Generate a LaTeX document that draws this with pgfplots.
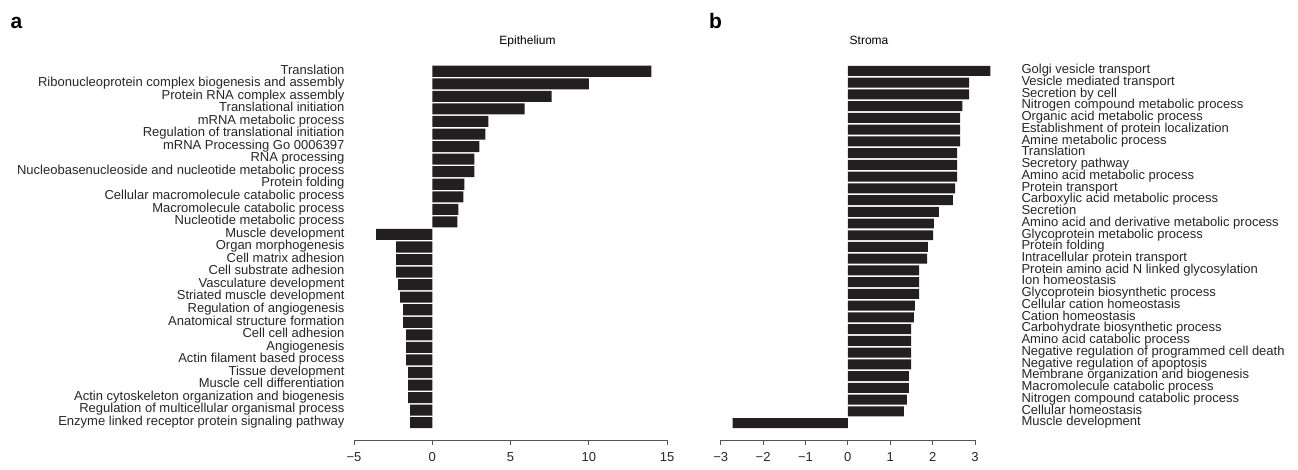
\documentclass[border=0pt]{standalone}
\usepackage{fontspec}
\setmainfont{Liberation Sans}
\usepackage{pgfplots}
\usepackage{pgfplotstable}
\pgfplotsset{compat=1.18}

\definecolor{barcol}{HTML}{231F20}
\definecolor{axcol}{HTML}{555555}

% epithelium: pos counted from the bottom bar
\pgfplotstableread[col sep=comma]{
pos,val,label
28,14.0,Translation
27,10.0,Ribonucleoprotein complex biogenesis and assembly
26,7.63,Protein RNA complex assembly
25,5.9,Translational initiation
24,3.59,mRNA metabolic process
23,3.40,Regulation of translational initiation
22,3.01,mRNA Processing Go 0006397
21,2.69,RNA processing
20,2.69,Nucleobasenucleoside and nucleotide metabolic process
19,2.05,Protein folding
18,1.99,Cellular macromolecule catabolic process
17,1.67,Macromolecule catabolic process
16,1.60,Nucleotide metabolic process
15,-3.59,Muscle development
14,-2.31,Organ morphogenesis
13,-2.31,Cell matrix adhesion
12,-2.31,Cell substrate adhesion
11,-2.18,Vasculature development
10,-2.05,Striated muscle development
9,-1.86,Regulation of angiogenesis
8,-1.86,Anatomical structure formation
7,-1.67,Cell cell adhesion
6,-1.67,Angiogenesis
5,-1.67,Actin filament based process
4,-1.54,Tissue development
3,-1.54,Muscle cell differentiation
2,-1.54,Actin cytoskeleton organization and biogenesis
1,-1.41,Regulation of multicellular organismal process
0,-1.41,Enzyme linked receptor protein signaling pathway
}\epi

% stroma
\pgfplotstableread[col sep=comma]{
pos,val,label
30,3.36,Golgi vesicle transport
29,2.86,Vesicle mediated transport
28,2.86,Secretion by cell
27,2.70,Nitrogen compound metabolic process
26,2.65,Organic acid metabolic process
25,2.65,Establishment of protein localization
24,2.65,Amine metabolic process
23,2.58,Translation
22,2.58,Secretory pathway
21,2.58,Amino acid metabolic process
20,2.53,Protein transport
19,2.48,Carboxylic acid metabolic process
18,2.15,Secretion
17,2.03,Amino acid and derivative metabolic process
16,2.01,Glycoprotein metabolic process
15,1.89,Protein folding
14,1.87,Intracellular protein transport
13,1.68,Protein amino acid N linked glycosylation
12,1.68,Ion homeostasis
11,1.68,Glycoprotein biosynthetic process
10,1.58,Cellular cation homeostasis
9,1.56,Cation homeostasis
8,1.49,Carbohydrate biosynthetic process
7,1.49,Amino acid catabolic process
6,1.49,Negative regulation of programmed cell death
5,1.49,Negative regulation of apoptosis
4,1.44,Membrane organization and biogenesis
3,1.44,Macromolecule catabolic process
2,1.39,Nitrogen compound catabolic process
1,1.32,Cellular homeostasis
0,-2.72,Muscle development
}\str

\pgfplotsset{
  rstyle/.style={
    xbar, scale only axis, clip=false,
    axis x line*=bottom,
    y axis line style={draw=none},
    ytick style={draw=none},
    x axis line style={draw=axcol, line width=0.9bp, -},
    xtick style={draw=axcol, line width=0.9bp},
    tick align=outside, major tick length=5bp,
    ytick=data,
    typeset ticklabels with strut,
    tick label style={font=\fontsize{13bp}{13bp}\selectfont, text=black!85},
    xticklabel style={yshift=-4bp},
  }
}

\begin{document}
\begin{tikzpicture}[x=1bp,y=1bp]
\useasboundingbox (0,0) rectangle (1298,470);

\begin{axis}[rstyle, axis y line*=left,
  at={(354bp,30bp)}, anchor=south west,
  width=313bp, height=375bp,
  xmin=-5, xmax=15, ymin=-1.376, ymax=28.5,
  xtick={-5,0,5,10,15}, xticklabels={−5,0,5,10,15},
  yticklabels from table={\epi}{label},
  yticklabel style={xshift=-1bp},
  bar width=0.88,
]
\addplot[fill=barcol, draw=none] table[x=val, y=pos] {\epi};
\end{axis}

\begin{axis}[rstyle, axis y line*=right,
  at={(720.7bp,30bp)}, anchor=south west,
  width=254.3bp, height=375bp,
  xmin=-3, xmax=3, ymin=-1.437, ymax=30.5,
  xtick={-3,-2,-1,0,1,2,3}, xticklabels={−3,−2,−1,0,1,2,3},
  yticklabels from table={\str}{label},
  yticklabel style={anchor=west, xshift=38bp},
  bar width=0.85,
]
\addplot[fill=barcol, draw=none] table[x=val, y=pos] {\str};
\end{axis}

\node[anchor=base, font=\fontsize{12bp}{12bp}\selectfont] at (527.5,425) {Epithelium};
\node[anchor=base, font=\fontsize{12bp}{12bp}\selectfont] at (869,425) {Stroma};
\node[anchor=base, font=\fontsize{21bp}{21bp}\selectfont\bfseries] at (16.5,441) {a};
\node[anchor=base, font=\fontsize{21bp}{21bp}\selectfont\bfseries] at (715.5,441) {b};
\end{tikzpicture}
\end{document}
